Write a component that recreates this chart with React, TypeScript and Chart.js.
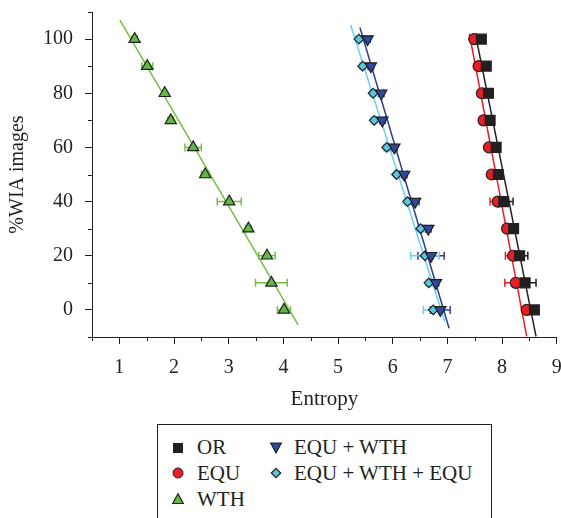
import React, { useEffect, useRef } from 'react';
import { Chart, registerables } from 'chart.js';

Chart.register(...registerables);

// ---------- data ----------
const yLevels = [100, 90, 80, 70, 60, 50, 40, 30, 20, 10, 0];

const orX = [7.62, 7.71, 7.75, 7.78, 7.89, 7.93, 8.03, 8.21, 8.32, 8.42, 8.59];
const orErr = [0.06, 0.07, 0.05, 0.05, 0.05, 0.05, 0.17, 0.05, 0.15, 0.2, 0.06];

const equX = [7.49, 7.57, 7.63, 7.66, 7.76, 7.81, 7.92, 8.09, 8.2, 8.25, 8.45];
const equErr = [0.05, 0.05, 0.05, 0.05, 0.05, 0.05, 0.14, 0.05, 0.14, 0.2, 0.05];

const wthX = [1.28, 1.51, 1.83, 1.94, 2.35, 2.57, 3.01, 3.36, 3.7, 3.78, 4.01];
const wthErr = [0.05, 0.1, 0.03, 0.05, 0.15, 0.07, 0.22, 0.05, 0.15, 0.29, 0.12];

const ewX = [5.54, 5.6, 5.79, 5.81, 6.03, 6.21, 6.41, 6.65, 6.7, 6.79, 6.87];
const ewErr = [0.05, 0.05, 0.05, 0.05, 0.05, 0.05, 0.07, 0.05, 0.24, 0.05, 0.18];

const eweX = [5.38, 5.45, 5.64, 5.66, 5.89, 6.07, 6.27, 6.51, 6.59, 6.66, 6.74];
const eweErr = [0.05, 0.05, 0.05, 0.05, 0.05, 0.05, 0.05, 0.05, 0.26, 0.05, 0.18];

// fitted lines (end points)
const orFitX = [7.51, 8.62];
const orFitY = [102, -9.8];
const equFitX = [7.4, 8.45];
const equFitY = [102, -9.8];
const wthFitX = [1.01, 4.27];
const wthFitY = [107, -5.5];
const ewFitX = [5.4, 7.03];
const ewFitY = [104.3, -6.8];
const eweFitX = [5.23, 6.95];
const eweFitY = [105.2, -4.3];

// axes
const xMin = 0.5;
const xMax = 9;
const yMin = -10;
const yMax = 110;
const xTickValues = [1, 2, 3, 4, 5, 6, 7, 8, 9];
const xMinorTicks = [0.5, 1.5, 2.5, 3.5, 4.5, 5.5, 6.5, 7.5, 8.5];
const yTickValues = [0, 20, 40, 60, 80, 100];
const yMinorTicks = [-10, 10, 30, 50, 70, 90, 110];

const seriesNames = ['OR', 'EQU', 'WTH', 'EQU + WTH', 'EQU + WTH + EQU'];

// ---------- styles ----------
const INK = '#231f20';
const FONT = "'Liberation Serif', 'Times New Roman', serif";
const C = {
  or: { fill: '#231f20', line: '#231f20' },
  equ: { fill: '#ec1c24', line: '#ec1c24' },
  wth: { fill: '#62b846', line: '#72bf44' },
  ew: { fill: '#2c4b9c', line: '#2e3d94' },
  ewe: { fill: '#5cc6e0', line: '#6ccfee' },
};

const pts = (xs: number[]) => xs.map((x, i) => ({ x, y: yLevels[i] }));
const fit = (xs: number[], ys: number[]) => xs.map((x, i) => ({ x, y: ys[i] }));

const errorBarPlugin = {
  id: 'errorBars',
  beforeDatasetsDraw(chart: any) {
    const ctx = chart.ctx;
    const xs = chart.scales.x;
    const ys = chart.scales.y;
    chart.data.datasets.forEach((ds: any) => {
      if (!ds.errX) return;
      ctx.save();
      ctx.strokeStyle = ds.errColor;
      ctx.lineWidth = 1.5;
      ds.data.forEach((p: any, i: number) => {
        const e = ds.errX[i];
        const y = ys.getPixelForValue(p.y);
        const x1 = xs.getPixelForValue(p.x - e);
        const x2 = xs.getPixelForValue(p.x + e);
        ctx.beginPath();
        ctx.moveTo(x1, y);
        ctx.lineTo(x2, y);
        ctx.moveTo(x1, y - 4);
        ctx.lineTo(x1, y + 4);
        ctx.moveTo(x2, y - 4);
        ctx.lineTo(x2, y + 4);
        ctx.stroke();
      });
      ctx.restore();
    });
  },
};

const minorTickPlugin = {
  id: 'minorTicks',
  afterDraw(chart: any) {
    const ctx = chart.ctx;
    const xs = chart.scales.x;
    const ys = chart.scales.y;
    const { left, bottom } = chart.chartArea;
    ctx.save();
    ctx.strokeStyle = INK;
    ctx.lineWidth = 1;
    ctx.beginPath();
    xMinorTicks.forEach((v) => {
      const x = Math.round(xs.getPixelForValue(v)) + 0.5;
      ctx.moveTo(x, bottom);
      ctx.lineTo(x, bottom + 4);
    });
    yMinorTicks.forEach((v) => {
      const y = Math.round(ys.getPixelForValue(v)) + 0.5;
      ctx.moveTo(left - 4, y);
      ctx.lineTo(left, y);
    });
    ctx.stroke();
    ctx.restore();
  },
};

function markerDs(label: string, xs: number[], errs: number[], col: any, style: string, radius: number, rotation = 0) {
  return {
    label,
    data: pts(xs),
    errX: errs,
    errColor: col.line,
    showLine: false,
    pointStyle: style,
    pointRadius: radius,
    pointRotation: rotation,
    pointBackgroundColor: col.fill,
    pointBorderColor: INK,
    pointBorderWidth: 1.2,
    order: 1,
  } as any;
}

function lineDs(label: string, xs: number[], ys: number[], col: any) {
  return {
    label,
    data: fit(xs, ys),
    showLine: true,
    borderColor: col.line,
    borderWidth: 1.5,
    pointRadius: 0,
    order: 2,
  } as any;
}

function Marker({ kind, color }: { kind: string; color: string }) {
  const s = 14;
  let shape: any = null;
  if (kind === 'square') shape = <rect x={2.5} y={2.5} width={9} height={9} fill={color} stroke={INK} strokeWidth={1} />;
  if (kind === 'circle') shape = <circle cx={7} cy={7} r={5} fill={color} stroke={INK} strokeWidth={1} />;
  if (kind === 'tri') shape = <polygon points="7,1.8 12.3,11.5 1.7,11.5" fill={color} stroke={INK} strokeWidth={1.2} />;
  if (kind === 'tridown') shape = <polygon points="1.7,2 12.3,2 7,12" fill={color} stroke={INK} strokeWidth={1.2} />;
  if (kind === 'diamond') shape = <polygon points="7,2.3 11.7,7 7,11.7 2.3,7" fill={color} stroke={INK} strokeWidth={1.2} />;
  return (
    <svg width={s} height={s} style={{ display: 'block' }}>
      {shape}
    </svg>
  );
}

export default function App() {
  const ref = useRef<HTMLCanvasElement>(null);

  useEffect(() => {
    if (!ref.current) return;
    const tickFont = { family: FONT, size: 20 };
    const chart = new Chart(ref.current, {
      type: 'scatter',
      data: {
        datasets: [
          markerDs(seriesNames[0], orX, orErr, C.or, 'rect', 7),
          markerDs(seriesNames[1], equX, equErr, C.equ, 'circle', 5.5),
          markerDs(seriesNames[2], wthX, wthErr, C.wth, 'triangle', 6.5),
          markerDs(seriesNames[3], ewX, ewErr, C.ew, 'triangle', 6.5, 180),
          markerDs(seriesNames[4], eweX, eweErr, C.ewe, 'rectRot', 4.8),
          lineDs('OR fit', orFitX, orFitY, C.or),
          lineDs('EQU fit', equFitX, equFitY, C.equ),
          lineDs('WTH fit', wthFitX, wthFitY, C.wth),
          lineDs('EQU + WTH fit', ewFitX, ewFitY, C.ew),
          lineDs('EQU + WTH + EQU fit', eweFitX, eweFitY, C.ewe),
        ],
      },
      options: {
        animation: false,
        responsive: false,
        layout: { padding: { left: 0, right: 4.5, top: 12, bottom: 0 } },
        plugins: { legend: { display: false }, tooltip: { enabled: false } },
        scales: {
          x: {
            type: 'linear',
            min: xMin,
            max: xMax,
            afterBuildTicks: (s: any) => {
              s.ticks = xTickValues.map((v) => ({ value: v }));
            },
            afterFit: (s: any) => {
              s.paddingLeft = 0;
              s.paddingRight = 0;
              s.height = 81;
            },
            ticks: { color: INK, font: tickFont, padding: 12, maxRotation: 0, autoSkip: false },
            grid: { drawOnChartArea: false, drawTicks: true, tickLength: 7, color: INK, tickWidth: 1 },
            border: { display: true, color: INK, width: 1 },
            title: { display: true, text: 'Entropy', color: INK, font: { family: FONT, size: 21 }, padding: { top: 8, bottom: 6 } },
          },
          y: {
            type: 'linear',
            min: yMin,
            max: yMax,
            afterBuildTicks: (s: any) => {
              s.ticks = yTickValues.map((v) => ({ value: v }));
            },
            afterFit: (s: any) => {
              s.paddingTop = 0;
              s.paddingBottom = 0;
              s.width = 92;
            },
            ticks: { color: INK, font: tickFont, padding: 12, autoSkip: false },
            grid: { drawOnChartArea: false, drawTicks: true, tickLength: 7, color: INK, tickWidth: 1 },
            border: { display: true, color: INK, width: 1 },
            title: { display: true, text: '%WIA images', color: INK, font: { family: FONT, size: 20 }, padding: { top: 6, bottom: 13 } },
          },
        },
      } as any,
      plugins: [errorBarPlugin, minorTickPlugin],
    });
    return () => chart.destroy();
  }, []);

  const textStyle: React.CSSProperties = {
    position: 'absolute',
    fontFamily: FONT,
    fontSize: 21,
    lineHeight: '24px',
    height: 24,
    color: INK,
    whiteSpace: 'nowrap',
  };

  const legendItems = [
    { name: seriesNames[0], kind: 'square', color: C.or.fill, mx: 177.7, tx: 197, cy: 447.7 },
    { name: seriesNames[1], kind: 'circle', color: C.equ.fill, mx: 177.7, tx: 197, cy: 473.3 },
    { name: seriesNames[2], kind: 'tri', color: C.wth.fill, mx: 177.7, tx: 197, cy: 499.3 },
    { name: seriesNames[3], kind: 'tridown', color: C.ew.fill, mx: 276, tx: 294, cy: 447.7 },
    { name: seriesNames[4], kind: 'diamond', color: C.ewe.fill, mx: 276, tx: 294, cy: 473.3 },
  ];

  return (
    <div style={{ position: 'absolute', left: 0, top: 0, width: 561, height: 518, overflow: 'hidden', background: '#fff' }}>
      <canvas ref={ref} width={565} height={418} style={{ display: 'block', width: 565, height: 418 }} />
      <div
        style={{
          position: 'absolute',
          left: 157,
          top: 424,
          width: 335,
          height: 120,
          boxSizing: 'border-box',
          border: `1.5px solid ${INK}`,
        }}
      />
      {legendItems.map((it) => (
        <React.Fragment key={it.name}>
          <div style={{ position: 'absolute', left: it.mx - 7, top: it.cy - 7 }}>
            <Marker kind={it.kind} color={it.color} />
          </div>
          <div style={{ ...textStyle, left: it.tx, top: it.cy - 12.5 }}>{it.name}</div>
        </React.Fragment>
      ))}
    </div>
  );
}
